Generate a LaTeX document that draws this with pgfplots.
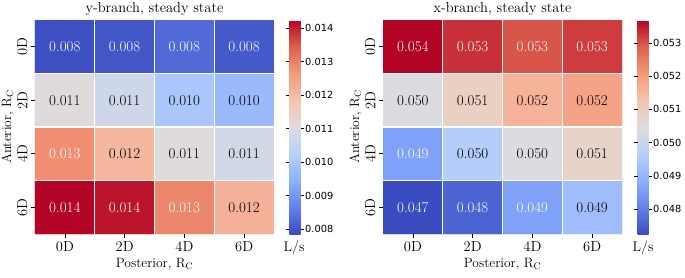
\documentclass[border=0pt]{standalone}
\usepackage{fontspec}
\newfontfamily\dejavu{DejaVu Sans}
\usepackage{pgfplots}
\usepackage{pgfplotstable}
\pgfplotsset{compat=1.18}
\pgfplotsset{
 colormap={coolwarm}{rgb255(0cm)=(59,76,192) rgb255(1cm)=(98,130,234) rgb255(2cm)=(141,176,254) rgb255(3cm)=(184,208,249) rgb255(4cm)=(221,221,221) rgb255(5cm)=(245,196,173) rgb255(6cm)=(244,154,123) rgb255(7cm)=(222,96,77) rgb255(8cm)=(180,4,38)}
}
\newcommand{\annfont}{\fontsize{15}{17}\selectfont}
\newcommand{\tickfont}{\fontsize{14.5}{17}\selectfont}
\newcommand{\labfont}{\fontsize{13.5}{15}\selectfont}
\newcommand{\titfont}{\fontsize{14.5}{16}\selectfont}

\pgfplotstableread{
x y c
0 0 0.00790
1 0 0.00800
2 0 0.00830
3 0 0.00805
0 1 0.01110
1 1 0.01070
2 1 0.01000
3 1 0.00970
0 2 0.01280
1 2 0.01210
2 2 0.01110
3 2 0.01080
0 3 0.01424
1 3 0.01410
2 3 0.01290
3 3 0.01220
}\ydata
\pgfplotstableread{
x y lab
0 0 0.008
1 0 0.008
2 0 0.008
3 0 0.008
0 2 0.013
0 3 0.014
1 3 0.014
2 3 0.013
}\ywhite
\pgfplotstableread{
x y lab
0 1 0.011
1 1 0.011
2 1 0.010
3 1 0.010
1 2 0.012
2 2 0.011
3 2 0.011
3 3 0.012
}\yblack

\pgfplotstableread{
x y c
0 0 0.05369
1 0 0.05330
2 0 0.05300
3 0 0.05320
0 1 0.05040
1 1 0.05090
2 1 0.05160
3 1 0.05190
0 2 0.04860
1 2 0.04960
2 2 0.05040
3 2 0.05080
0 3 0.04725
1 3 0.04760
2 3 0.04860
3 3 0.04920
}\xdata
\pgfplotstableread{
x y lab
0 0 0.054
1 0 0.053
2 0 0.053
3 0 0.053
0 2 0.049
0 3 0.047
1 3 0.048
2 3 0.049
}\xwhite
\pgfplotstableread{
x y lab
0 1 0.050
1 1 0.051
2 1 0.052
3 1 0.052
1 2 0.050
2 2 0.050
3 2 0.051
3 3 0.049
}\xblack

\pgfplotsset{
 heat/.style={
  anchor=south west, scale only axis, width=239pt, height=214pt,
  xmin=-0.5, xmax=3.5, ymin=-0.5, ymax=3.5, y dir=reverse,
  xtick={0,1,2,3}, xticklabels={0D,2D,4D,6D},
  ytick={0,1,2,3}, yticklabels={0D,2D,4D,6D},
  tick label style={font=\tickfont},
  yticklabel style={rotate=90, anchor=south},
  tick align=outside, tick pos=left, major tick length=4pt,
  tick style={black, line width=0.6pt},
  axis line style={draw=none},
  extra x ticks={0.5,1.5,2.5}, extra y ticks={0.5,1.5,2.5},
  extra x tick labels={}, extra y tick labels={},
  extra tick style={grid=major, major tick length=0pt, major grid style={white, line width=1.2pt}},
  axis on top,
  colormap name=coolwarm,
  colorbar,
  colorbar shift/.style={xshift=15.5pt},
  title style={font=\titfont, yshift=-4.5pt},
  xlabel style={font=\labfont, yshift=4pt},
  ylabel style={font=\labfont, at={(axis description cs:-0.115,0.5)}, anchor=center},
  xlabel={Posterior, $\mathrm{R}_{\mathrm{C}}$},
  ylabel={Anterior, $\mathrm{R}_{\mathrm{C}}$},
 },
 cbar/.style={
  colorbar style={
   at={(parent axis.north east)}, anchor=north west,
   width=11pt, height=214pt,
   ytick={#1}, scaled y ticks=false,
   yticklabel style={font=\dejavu\fontsize{9.8}{11}\selectfont, inner sep=1pt,
     /pgf/number format/fixed, /pgf/number format/fixed zerofill, /pgf/number format/precision=3, /pgf/number format/assume math mode=true},
   major tick length=3.5pt, tick align=outside,
   tick style={black, line width=0.6pt},
   axis line style={draw=none},
  }
 },
 wlab/.style={draw=none, mark=none, nodes near coords, point meta=explicit symbolic,
   every node near coord/.style={font=\annfont, text=white, anchor=center}},
 blab/.style={draw=none, mark=none, nodes near coords, point meta=explicit symbolic,
   every node near coord/.style={font=\annfont, text=black, anchor=center}},
}

\begin{document}
\begin{tikzpicture}
\path[use as bounding box] (0,0) rectangle (685pt,277pt);
\begin{axis}[heat, at={(35pt,43pt)},
  point meta min=0.00785, point meta max=0.01424,
  cbar={0.008,0.009,0.010,0.011,0.012,0.013,0.014},
  title={y-branch, steady state}]
\addplot[matrix plot*, mesh/cols=4, point meta=explicit] table[meta=c]{\ydata};
\addplot[wlab] table[meta=lab]{\ywhite};
\addplot[blab] table[meta=lab]{\yblack};
\end{axis}
\begin{axis}[heat, at={(383pt,43pt)},
  point meta min=0.04725, point meta max=0.05369,
  cbar={0.048,0.049,0.050,0.051,0.052,0.053},
  title={x-branch, steady state}]
\addplot[matrix plot*, mesh/cols=4, point meta=explicit] table[meta=c]{\xdata};
\addplot[wlab] table[meta=lab]{\xwhite};
\addplot[blab] table[meta=lab]{\xblack};
\end{axis}
\node[font=\fontsize{14}{16}\selectfont] at (294pt,29pt) {L/s};
\node[font=\fontsize{14}{16}\selectfont] at (643pt,29pt) {L/s};
\end{tikzpicture}
\end{document}
